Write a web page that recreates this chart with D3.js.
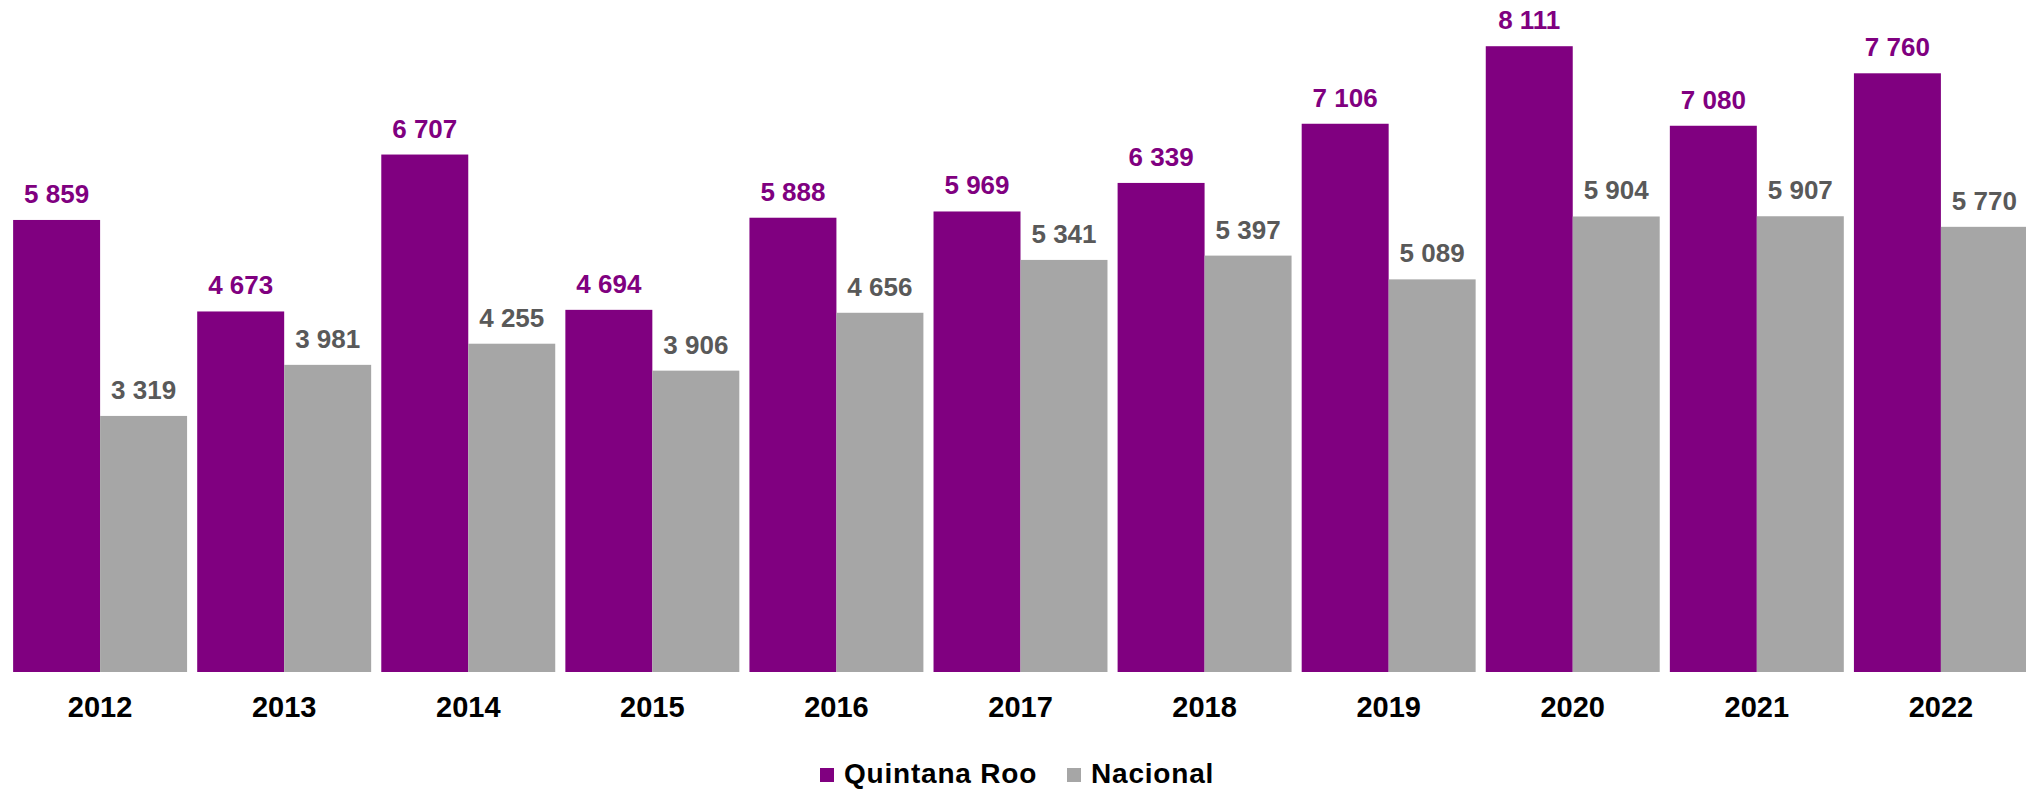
<!DOCTYPE html>
<html>
<head>
<meta charset="utf-8">
<script src="https://cdn.jsdelivr.net/npm/d3@7"></script>
<style>
  body { margin: 0; background: #fff; }
  #chart { width: 2026px; height: 789px; }
  text { font-family: "Liberation Sans", Arial, sans-serif; font-weight: bold; }
</style>
</head>
<body>
<div id="chart"></div>
<script>
// data
const years = ["2012", "2013", "2014", "2015", "2016", "2017", "2018", "2019", "2020", "2021", "2022"];
const quintanaRoo = [5859, 4673, 6707, 4694, 5888, 5969, 6339, 7106, 8111, 7080, 7760];
const nacional = [3319, 3981, 4255, 3906, 4656, 5341, 5397, 5089, 5904, 5907, 5770];
const seriesNames = ["Quintana Roo", "Nacional"];

const width = 2026;
const height = 789;
const baseline = 672;

const colors = ["#800080", "#A6A6A6"];
const labelColors = ["#800080", "#595959"];

const svg = d3.select("#chart")
  .append("svg")
  .attr("width", width)
  .attr("height", height);

/*
SCALES
*/
const xScale = d3.scaleBand()
  .domain(years)
  .range([3, 2038])
  .padding(0.055);

const xInner = d3.scaleBand()
  .domain(seriesNames)
  .range([0, xScale.bandwidth()]);

const yScale = d3.scaleLinear()
  .domain([0, 8710])
  .range([baseline, 0]);

const fmt = d3.formatLocale({ decimal: ".", thousands: " ", grouping: [3], currency: ["", ""] }).format(",");

const rows = years.map(function (y, i) {
  return { year: y, values: [quintanaRoo[i], nacional[i]] };
});

/*
BARS
*/
const groups = svg.selectAll("g.year")
  .data(rows)
  .enter()
  .append("g")
  .attr("class", "year")
  .attr("transform", d => `translate(${xScale(d.year)},0)`);

groups.selectAll("rect")
  .data(d => d.values.map((v, k) => ({ name: seriesNames[k], value: v, k: k })))
  .enter()
  .append("rect")
  .attr("x", d => xInner(d.name))
  .attr("y", d => yScale(d.value))
  .attr("width", xInner.bandwidth())
  .attr("height", d => baseline - yScale(d.value))
  .attr("fill", d => colors[d.k]);

groups.selectAll("text.value")
  .data(d => d.values.map((v, k) => ({ name: seriesNames[k], value: v, k: k })))
  .enter()
  .append("text")
  .attr("class", "value")
  .attr("x", d => xInner(d.name) + xInner.bandwidth() / 2)
  .attr("y", d => yScale(d.value) - 17)
  .attr("text-anchor", "middle")
  .attr("font-size", "26px")
  .attr("fill", d => labelColors[d.k])
  .text(d => fmt(d.value));

/*
X AXIS LABELS
*/
svg.append("g")
  .attr("transform", `translate(0,${baseline})`)
  .call(d3.axisBottom(xScale).tickSize(0).tickPadding(0))
  .call(g => g.select(".domain").remove())
  .selectAll("text")
  .attr("y", 45)
  .attr("dy", 0)
  .attr("font-size", "29px")
  .attr("font-family", "Liberation Sans, Arial, sans-serif")
  .attr("fill", "#000");

/*
LEGEND
*/
const legendX = [820, 1067];
const legend = svg.selectAll("g.legend")
  .data(seriesNames)
  .enter()
  .append("g")
  .attr("class", "legend")
  .attr("transform", (d, i) => `translate(${legendX[i]},0)`);

legend.append("rect")
  .attr("x", 0)
  .attr("y", 768)
  .attr("width", 14)
  .attr("height", 14)
  .attr("fill", (d, i) => colors[i]);

legend.append("text")
  .attr("x", 24)
  .attr("y", 783)
  .attr("font-size", "28px")
  .attr("letter-spacing", "0.8px")
  .attr("fill", "#000")
  .text(d => d);
</script>
</body>
</html>
